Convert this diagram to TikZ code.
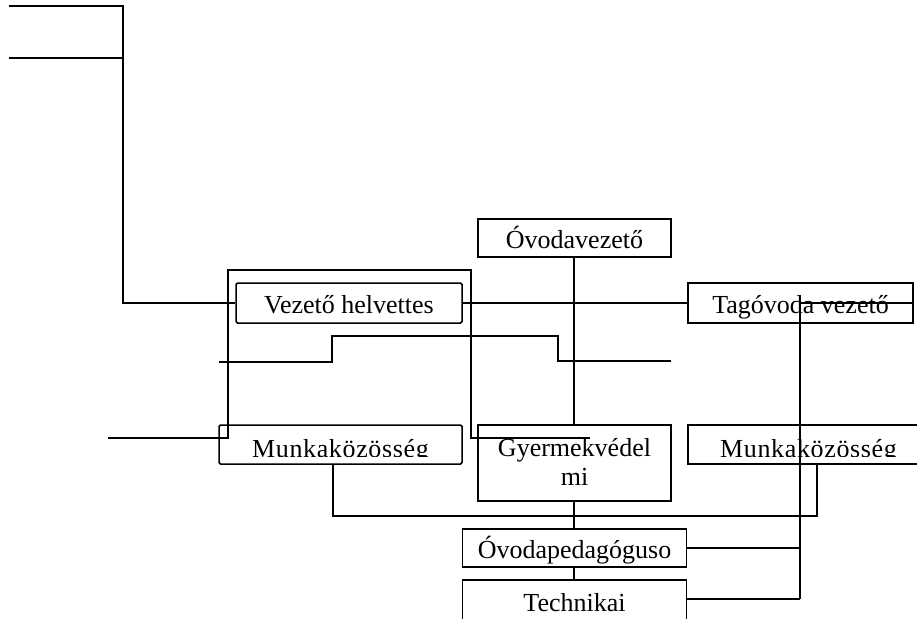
\documentclass[tikz,border=0pt]{standalone}
\usepackage{fontspec}
\setmainfont{Liberation Serif}
\begin{document}
\begin{tikzpicture}[x=1pt,y=-1pt,line width=1.5pt,
  box/.style={draw,rectangle,inner sep=0pt,font=\fontsize{26}{30}\selectfont,
              text height=20pt,text depth=0pt},
  rbox/.style={box,rounded corners=1.5pt},
  txt/.style={inner sep=0pt,font=\fontsize{26}{30}\selectfont},
  wide/.style={txt,font=\fontsize{26}{30}\selectfont\addfontfeature{LetterSpace=2.5}}]
\clip (0,0) rectangle (917,618);
\useasboundingbox (0,0) rectangle (917,618);

% boxes
\node[box,minimum width=193,minimum height=38] (ovez) at (574.5,238) {Óvodavezető};
\node[rbox,minimum width=226,minimum height=40] (vezh) at (349,303) {Vezető helvettes};
\node[box,minimum width=225,minimum height=40] (tag) at (800.5,303) {Tagóvoda vezető};
\node[rbox,minimum width=243,minimum height=39] (munk1) at (340.5,444.5) {};
\node[box,minimum width=193,minimum height=76] (gyer) at (574.5,463) {};
\node[box,minimum width=250,minimum height=39,anchor=west] (munk2) at (687,444.5) {};
\node[box,minimum width=224,minimum height=38] (ovped) at (574.5,548) {Óvodapedagóguso};
\node[box,minimum width=224,minimum height=46,anchor=north] (tech) at (574.5,579) {};

% texts inside boxes that are clipped or wrapped
\begin{scope}
  \clip (219,425) rectangle (462,456);
  \node[wide,anchor=base] (munk1t) at (340.5,457) {Munkaközösség};
\end{scope}
\begin{scope}
  \clip (687,425) rectangle (917,456);
  \node[wide,anchor=base] (munk2t) at (808.5,457) {Munkaközösség};
\end{scope}
\node[txt,anchor=base] (gyer1) at (574.5,456) {Gyermekvédel};
\node[txt,anchor=base] (gyer2) at (574.5,485) {mi};
\node[txt,anchor=base] (techt) at (574.5,611) {Technikai};

% free line ends
\coordinate (c) at (574,0);
\coordinate (tl1) at (9,6);
\coordinate (tr1) at (123,6);
\coordinate (tl2) at (9,58);
\coordinate (tr2) at (123,58);
\coordinate (o1) at (108,438);
\coordinate (o2) at (228,438);
\coordinate (o3) at (228,270);
\coordinate (o4) at (471,270);
\coordinate (o5) at (471,438);
\coordinate (o6) at (590,438);
\coordinate (s1) at (219,362);
\coordinate (s2) at (332,362);
\coordinate (s3) at (332,336);
\coordinate (s4) at (558,336);
\coordinate (s5) at (558,361);
\coordinate (s6) at (671,361);
\coordinate (b1) at (333,516);
\coordinate (b2) at (817,516);
\coordinate (v1) at (800,303);
\coordinate (v2) at (913,303);
\coordinate (v3) at (800,547);
\coordinate (v4) at (800,599);

% connectors
\draw (tl1) -- (tr1) |- (vezh.west);
\draw (tl2) -- (tr2);
\draw (o1) -- (o2) -- (o3) -- (o4) -- (o5) -- (o6);
\draw (s1) -- (s2) -- (s3) -- (s4) -- (s5) -- (s6);
\draw (vezh.east) -- (tag.west);
\draw (ovez.south -| c) -- (gyer.north -| c);
\draw (munk1.south -| b1) -- (b1) -- (b2) -- (munk2.south -| b2);
\draw (gyer.south -| c) -- (ovped.north -| c);
\draw (ovped.south -| c) -- (tech.north -| c);
\draw (v2) -- (v1) -- (v4);
\draw (ovped.east) -- (ovped.east -| v3);
\draw (tech.east |- v4) -- (v4);
\end{tikzpicture}
\end{document}
